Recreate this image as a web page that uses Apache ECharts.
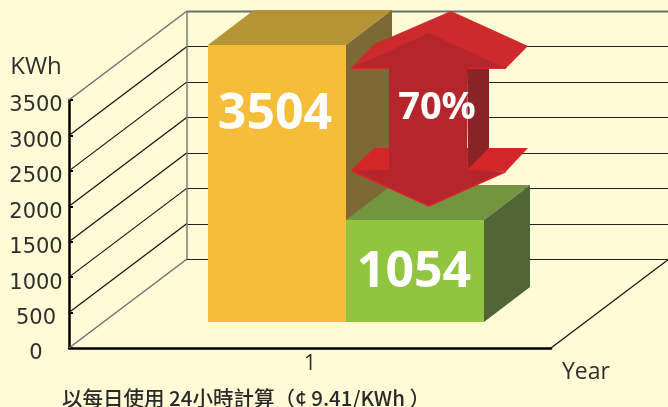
<!DOCTYPE html>
<html>
<head>
<meta charset="utf-8">
<style>
  html, body { margin: 0; padding: 0; background: #fffbd6; }
  #main { width: 668px; height: 407px; }
</style>
<script src="https://cdn.jsdelivr.net/npm/echarts@6/dist/echarts.min.js"></script>
</head>
<body>
<div id="main"></div>
<script>
var categories = ['1'];
var yTicks = [0, 500, 1000, 1500, 2000, 2500, 3000, 3500];
// bar tops as they read against the axis, the printed numbers differ
var barHeights = [3909, 1439];
var barLabels = ['3504', '1054'];
var arrowLabel = '70%';
var footNote = '以每日使用 24小時計算（¢ 9.41/KWh ）';

var wallDepth = [118, -89];
var barShift = [36, -26];
var barDepth = [46, -35];
var barRatio = 138 / 482;

var faceColors = [
  { front: '#f5bd39', top: '#b49435', side: '#7c6934' },
  { front: '#92c53f', top: '#74953f', side: '#526534' }
];
var latinFont = '"Open Sans", sans-serif';

function poly(points, color, z2) {
  return { type: 'polygon', z2: z2 || 0, shape: { points: points }, style: { fill: color } };
}
function line(points, color, width) {
  return { type: 'polyline', shape: { points: points }, style: { stroke: color, lineWidth: width, fill: null } };
}

// side wall and back wall grid
function renderWall(params, api) {
  var v = api.value(1);
  var band = api.size([1, 0])[0];
  var p = api.coord([0, v]);
  var base = api.coord([0, 0]);
  var x0 = p[0] - band / 2;
  var x1 = p[0] + band / 2;
  var backX = x0 + wallDepth[0];
  var backY = Math.round(p[1] + wallDepth[1]) + 0.5;
  var edge = v === 0 || v === 3500;
  var color = edge ? '#6f6f6f' : '#111111';
  var children = [
    line([[x0, p[1]], [backX, p[1] + wallDepth[1]]], color, edge ? 1.5 : 1.2),
    line([[backX, backY], [x1 + wallDepth[0], backY]], v === 3500 ? '#6f6f6f' : '#222222', v === 3500 ? 2 : 1.2)
  ];
  if (v === 3500) {
    children.push(line([[backX, p[1] + wallDepth[1]], [backX, base[1] + wallDepth[1]]], '#7a7a7a', 1.5));
  }
  if (v === 0) {
    children.push(line([[x1, p[1]], [x1 + wallDepth[0], p[1] + wallDepth[1]]], '#111111', 1.2));
  }
  return { type: 'group', children: children };
}

function renderBar(params, api) {
  var i = params.dataIndex;
  var band = api.size([1, 0])[0];
  var w = band * barRatio;
  var top = api.coord([0, api.value(1)]);
  var base = api.coord([0, 0]);
  var x0 = top[0] + barShift[0] + (i - 1) * w;
  var x1 = x0 + w;
  var yTop = top[1] + barShift[1];
  var yBase = base[1] + barShift[1];
  var c = faceColors[i];
  var dx = barDepth[0];
  var dy = barDepth[1];
  return {
    type: 'group',
    children: [
      poly([[x0, yTop], [x0 + dx, yTop + dy], [x1 + dx, yTop + dy], [x1, yTop]], c.top),
      poly([[x1, yTop], [x1 + dx, yTop + dy], [x1 + dx, yBase + dy], [x1, yBase]], c.side),
      poly([[x0, yTop], [x1, yTop], [x1, yBase], [x0, yBase]], c.front),
      {
        type: 'text',
        style: {
          x: (x0 + x1) / 2 - (i === 0 ? 2 : 1),
          y: yTop + (i === 0 ? 70 : 53),
          text: barLabels[i],
          fill: '#ffffff',
          font: 'bold 50px ' + latinFont,
          align: 'center',
          verticalAlign: 'middle'
        }
      }
    ]
  };
}

// arrow hangs off the front top left corner of the green bar
function renderArrow(params, api) {
  var top = api.coord([0, barHeights[1]]);
  var ox = top[0] + barShift[0];
  var oy = top[1] + barShift[1];
  function at(list) {
    return list.map(function (p) { return [ox + p[0], oy + p[1]]; });
  }
  return {
    type: 'group',
    children: [
      poly(at([[28, -72], [182, -72], [160, -48.5], [5, -49.5]]), '#d2262a'),
      poly(at([[121, -152], [143, -152], [143, -72], [122, -51]]), '#8a2428'),
      poly(at([[43, -152], [121, -152], [121, -50], [43, -50]]), '#b5262c'),
      poly(at([[5, -49.5], [43, -50], [121, -50], [160, -48.5], [83, -14]]), '#b5262c'),
      line(at([[5, -49.5], [83, -14], [160, -48.5]]), '#e0202a', 1.5),
      poly(at([[105, -209], [182, -174], [160, -151.7], [5, -151.7], [28, -175.7]]), '#cc2a2c'),
      poly(at([[83, -186.7], [160, -151.7], [5, -151.7]]), '#b5262c'),
      line(at([[5, -151.7], [43, -151.7]]), '#e0202a', 1.5),
      line(at([[121, -151.7], [160, -151.7]]), '#e0202a', 1.5),
      {
        type: 'text',
        style: {
          x: ox + 91,
          y: oy - 112,
          text: arrowLabel,
          fill: '#ffffff',
          font: 'bold 38px ' + latinFont,
          align: 'center',
          verticalAlign: 'middle'
        }
      }
    ]
  };
}

var chart = echarts.init(document.getElementById('main'));
var option = {
  animation: false,
  backgroundColor: '#fffbd6',
  textStyle: { color: '#2f2f2f' },
  grid: { left: 69, top: 100, width: 482, height: 248 },
  xAxis: {
    type: 'category',
    data: categories,
    name: 'Year',
    nameLocation: 'end',
    nameGap: 0,
    nameTextStyle: { color: '#2f2f2f', fontSize: 23, fontFamily: latinFont, align: 'left', verticalAlign: 'top', padding: [13, 0, 0, 11] },
    axisLine: { onZero: false, lineStyle: { color: '#000000', width: 2.5 } },
    axisTick: { inside: true, length: 5, lineStyle: { color: '#000000', width: 1 } },
    axisLabel: { color: '#2f2f2f', fontSize: 21, fontFamily: latinFont, margin: 6 },
    splitLine: { show: false }
  },
  yAxis: {
    type: 'value',
    min: 0,
    max: 3500,
    interval: 500,
    name: 'KWh',
    nameLocation: 'end',
    nameGap: 21,
    nameTextStyle: { color: '#2f2f2f', fontSize: 24, fontFamily: latinFont, align: 'center', padding: [0, 66, 0, 0] },
    axisLine: { show: true, lineStyle: { color: '#000000', width: 2.5 } },
    axisTick: { show: true, inside: true, length: 4, lineStyle: { color: '#000000', width: 2 } },
    axisLabel: {
      color: '#2f2f2f',
      fontSize: 21,
      fontFamily: '"DejaVu Sans", sans-serif',
      margin: 33,
      align: 'center',
      verticalAlign: 'top',
      lineHeight: 12,
      formatter: function (v) { return String(v); }
    },
    splitLine: { show: false }
  },
  graphic: [{
    type: 'text',
    left: 62,
    top: 388,
    style: { text: footNote, fill: '#2a2a2a', font: '500 20.5px "Noto Sans CJK TC", sans-serif' }
  }],
  series: [
    { type: 'custom', renderItem: renderWall, clip: false, silent: true, data: yTicks.map(function (v) { return [0, v]; }) },
    { type: 'custom', renderItem: renderBar, clip: false, silent: true, data: barHeights.map(function (v) { return [0, v]; }) },
    { type: 'custom', renderItem: renderArrow, clip: false, silent: true, data: [[0, barHeights[1]]] }
  ]
};
chart.setOption(option);
</script>
</body>
</html>
